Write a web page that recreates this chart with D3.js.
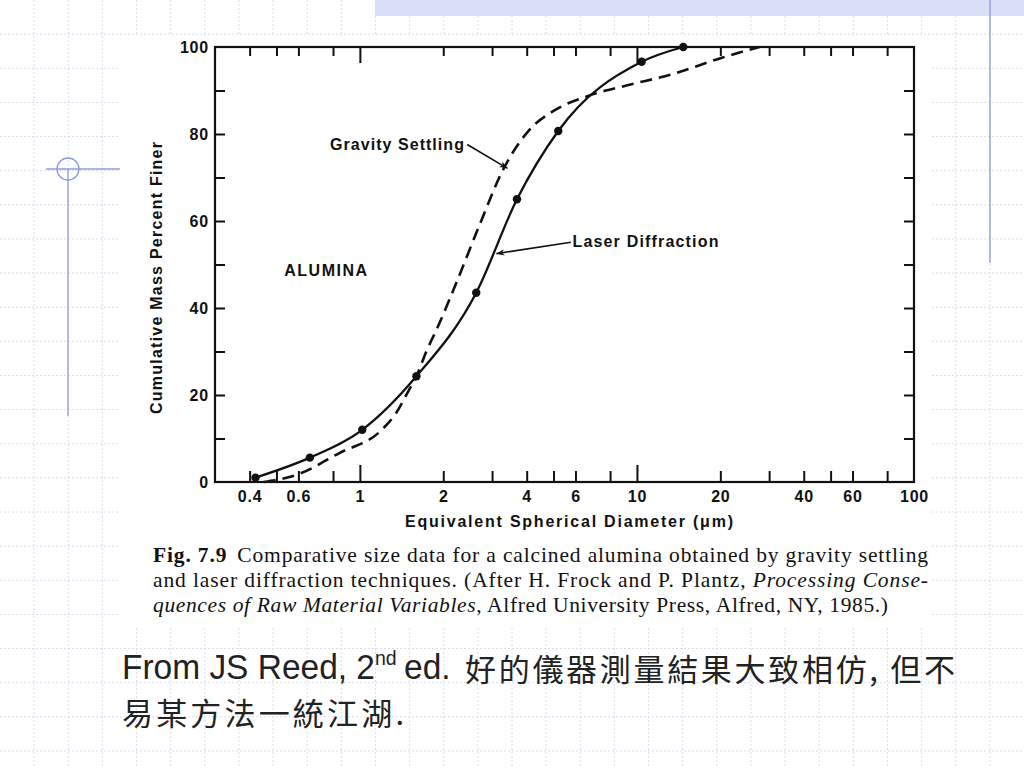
<!DOCTYPE html>
<html>
<head>
<meta charset="utf-8">
<script src="https://cdn.jsdelivr.net/npm/d3@7"></script>
<style>
  body { margin: 0; background: #fff; }
  svg { display: block; }
  .tick text { font-family: "Liberation Sans", Arial, sans-serif; font-weight: bold; }
</style>
</head>
<body>
<div id="chart"></div>
<script>
// laser diffraction (solid line with dots)
var laserDiam = [0.42, 0.66, 1.02, 1.6, 2.63, 3.69, 5.2, 10.4, 14.7];
var laserPct = [1.0, 5.6, 12.0, 24.3, 43.5, 65.0, 80.7, 96.6, 100];
// gravity settling (dashed line)
var gravDiam = [0.45, 0.6, 0.84, 1.2, 1.35, 1.5, 1.6, 1.73, 1.94, 2.22, 2.7, 3.3, 4.1, 5.0, 6.7, 9.1, 13.5, 20.4, 27.7];
var gravPct = [0, 1.8, 6.6, 12, 15.8, 21, 24.3, 29.7, 36.6, 45.5, 59, 72, 81, 85.3, 88.8, 91.1, 93.8, 97.6, 100];

var xMinorTicks = [0.4, 0.5, 0.6, 0.8, 2, 3, 4, 5, 6, 8, 20, 30, 40, 50, 60, 80];
var xMajorTicks = [1, 10];
var xTickLabels = [0.4, 0.6, 1, 2, 4, 6, 10, 20, 40, 60, 100];
var yTicks = [10, 20, 30, 40, 50, 60, 70, 80, 90];
var yTickLabels = [0, 20, 40, 60, 80, 100];

var width = 1024;
var height = 768;

var svg = d3.select("#chart")
	.append("svg")
	.attr("width", width)
	.attr("height", height);

/******************************* slide background *******************************/
var step = width / 30;
var bg = svg.append("g");
bg.selectAll(".vgrid")
	.data(d3.range(1, 30))
	.enter().append("line")
	.attr("x1", function(d) { return d * step; })
	.attr("x2", function(d) { return d * step; })
	.attr("y1", 0).attr("y2", height);
bg.selectAll(".hgrid")
	.data(d3.range(1, 23))
	.enter().append("line")
	.attr("y1", function(d) { return d * step; })
	.attr("y2", function(d) { return d * step; })
	.attr("x1", 0).attr("x2", width);
bg.selectAll("line")
	.style("stroke", "#dadded")
	.style("stroke-width", 1)
	.style("stroke-dasharray", "2,2");

bg.append("rect").attr("x", 375).attr("y", 0).attr("width", 649).attr("height", 16).style("fill", "#d9dff6");
bg.append("line").attr("x1", 990).attr("x2", 990).attr("y1", 0).attr("y2", 263)
	.style("stroke", "#8e9ade").style("stroke-width", 1.3);
bg.append("line").attr("x1", 68).attr("x2", 68).attr("y1", 169).attr("y2", 416)
	.style("stroke", "#8e9ade").style("stroke-width", 1.3);
bg.append("line").attr("x1", 46).attr("x2", 120).attr("y1", 169).attr("y2", 169)
	.style("stroke", "#8e9ade").style("stroke-width", 1.3);
bg.append("circle").attr("cx", 68).attr("cy", 169).attr("r", 11)
	.style("fill", "none").style("stroke", "#8e9ade").style("stroke-width", 1.3);

// white area of the scanned figure
svg.append("rect").attr("x", 120).attr("y", 35).attr("width", 810).attr("height", 593).style("fill", "#fff");

/*********************************** chart ***********************************/
var x = d3.scaleLog().domain([0.3, 100]).range([215, 914]);
var y = d3.scaleLinear().domain([0, 100]).range([482, 47]);

var g = svg.append("g");

function tickAxis(axis, tx, ty) {
	var a = g.append("g").attr("transform", "translate(" + tx + "," + ty + ")").call(axis);
	a.select(".domain").remove();
	a.selectAll("line").style("stroke", "#111").style("stroke-width", 2);
	return a;
}

tickAxis(d3.axisBottom(x).tickValues(xMinorTicks).tickSize(-11).tickFormat(""), 0, y(0));
tickAxis(d3.axisBottom(x).tickValues(xMajorTicks).tickSize(-17).tickFormat(""), 0, y(0));
tickAxis(d3.axisTop(x).tickValues(xMinorTicks).tickSize(-9).tickFormat(""), 0, y(100));
tickAxis(d3.axisTop(x).tickValues(xMajorTicks).tickSize(-16).tickFormat(""), 0, y(100));
tickAxis(d3.axisLeft(y).tickValues(yTicks).tickSize(-10).tickFormat(""), x(0.3), 0);
tickAxis(d3.axisRight(y).tickValues(yTicks).tickSize(-10).tickFormat(""), x(100), 0);

var xLab = tickAxis(d3.axisBottom(x).tickValues(xTickLabels).tickSize(0).tickPadding(9)
	.tickFormat(function(d) { return d; }), 0, y(0));
xLab.selectAll("text").style("font-size", "16px").style("letter-spacing", "0.8px").style("fill", "#111");

var yLab = tickAxis(d3.axisLeft(y).tickValues(yTickLabels).tickSize(0).tickPadding(6)
	.tickFormat(function(d) { return d; }), x(0.3), 0);
yLab.selectAll("text").style("font-size", "16px").style("letter-spacing", "0.8px").style("fill", "#111");

// frame
g.append("rect")
	.attr("x", x(0.3)).attr("y", y(100))
	.attr("width", x(100) - x(0.3)).attr("height", y(0) - y(100))
	.style("fill", "none").style("stroke", "#111").style("stroke-width", 2.2);

// curves
var line = d3.line()
	.x(function(d) { return x(d[0]); })
	.y(function(d) { return y(d[1]); })
	.curve(d3.curveMonotoneX);

var laserData = laserDiam.map(function(d, i) { return [d, laserPct[i]]; });
var gravData = gravDiam.map(function(d, i) { return [d, gravPct[i]]; });

g.append("path").datum(gravData).attr("d", line)
	.style("fill", "none").style("stroke", "#111").style("stroke-width", 2.6)
	.style("stroke-dasharray", "12,7");
g.append("path").datum(laserData).attr("d", line)
	.style("fill", "none").style("stroke", "#111").style("stroke-width", 2.3);
g.selectAll(".dot")
	.data(laserData)
	.enter().append("circle")
	.attr("class", "dot")
	.attr("cx", function(d) { return x(d[0]); })
	.attr("cy", function(d) { return y(d[1]); })
	.attr("r", 4.2)
	.style("fill", "#111");

// annotations
svg.append("defs").append("marker")
	.attr("id", "head")
	.attr("viewBox", "0 0 10 10")
	.attr("refX", 10).attr("refY", 5)
	.attr("markerWidth", 12).attr("markerHeight", 8)
	.attr("markerUnits", "userSpaceOnUse")
	.attr("orient", "auto")
	.append("path").attr("d", "M0,1 L10,5 L0,9 L3,5 Z").style("fill", "#111");

function label(txt, dx, py, len) {
	return g.append("text")
		.attr("x", x(dx)).attr("y", y(py))
		.attr("textLength", len)
		.style("font-family", "'Liberation Sans', Arial, sans-serif")
		.style("font-weight", "bold")
		.style("font-size", "16px")
		.style("fill", "#111")
		.text(txt);
}
function arrow(d0, p0, d1, p1) {
	g.append("line")
		.attr("x1", x(d0)).attr("y1", y(p0))
		.attr("x2", x(d1)).attr("y2", y(p1))
		.attr("marker-end", "url(#head)")
		.style("stroke", "#111").style("stroke-width", 1.6);
}

label("Gravity Settling", 0.78, 76.3, 134);
arrow(2.44, 77.6, 3.41, 72.1);
label("Laser Diffraction", 5.85, 54.0, 146);
arrow(5.77, 55.1, 3.11, 52.5);
label("ALUMINA", 0.533, 47.4, 83);

// axis titles
g.append("text")
	.attr("x", 569).attr("y", 527)
	.attr("text-anchor", "middle")
	.attr("textLength", 328)
	.style("font-family", "'Liberation Sans', Arial, sans-serif")
	.style("font-weight", "bold").style("font-size", "16px").style("fill", "#111")
	.text("Equivalent Spherical Diameter (\u03bcm)");
g.append("text")
	.attr("transform", "translate(162,278) rotate(-90)")
	.attr("text-anchor", "middle")
	.attr("textLength", 272)
	.style("font-family", "'Liberation Sans', Arial, sans-serif")
	.style("font-weight", "bold").style("font-size", "16px").style("fill", "#111")
	.text("Cumulative Mass Percent Finer");

/********************************* figure caption *********************************/
var cap = svg.append("g")
	.style("font-family", "'Liberation Serif', 'Times New Roman', serif")
	.style("font-size", "21.5px")
	.style("fill", "#111");

var c1 = cap.append("text").attr("x", 153).attr("y", 562).attr("textLength", 775);
c1.append("tspan").style("font-weight", "bold").text("Fig. 7.9");
c1.append("tspan").attr("dx", 10).text("Comparative size data for a calcined alumina obtained by gravity settling");

var c2 = cap.append("text").attr("x", 153).attr("y", 587).attr("textLength", 775);
c2.append("tspan").text("and laser diffraction techniques. (After H. Frock and P. Plantz, ");
c2.append("tspan").style("font-style", "italic").text("Processing Conse-");

var c3 = cap.append("text").attr("x", 153).attr("y", 612).attr("textLength", 735);
c3.append("tspan").style("font-style", "italic").text("quences of Raw Material Variables");
c3.append("tspan").text(", Alfred University Press, Alfred, NY, 1985.)");

/********************************* slide note *********************************/
var note = svg.append("g").style("fill", "#222");
var n1 = note.append("text")
	.attr("transform", "translate(122,679) scale(0.93,1)")
	.style("font-family", "'Liberation Sans', Arial, sans-serif")
	.style("font-size", "36px");
n1.append("tspan").text("From JS Reed, 2");
n1.append("tspan").attr("dy", -14).style("font-size", "21px").text("nd");
n1.append("tspan").attr("dy", 14).attr("dx", 8).text("ed.");

note.append("text").attr("x", 465).attr("y", 681)
	.attr("textLength", 490)
	.style("font-family", "'Noto Sans CJK TC', sans-serif")
	.style("font-size", "31px")
	.text("好的儀器測量結果大致相仿, 但不");
note.append("text").attr("x", 122).attr("y", 725)
	.attr("textLength", 282)
	.style("font-family", "'Noto Sans CJK TC', sans-serif")
	.style("font-size", "31px")
	.text("易某方法一統江湖.");
</script>
</body>
</html>
